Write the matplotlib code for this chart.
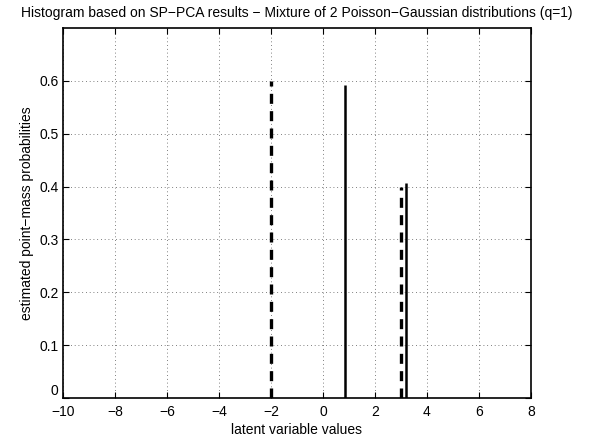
import numpy as np
import matplotlib
matplotlib.use("Agg")
import matplotlib.pyplot as plt

plt.rcParams['font.family'] = ['Liberation Sans', 'DejaVu Sans']

# true point masses (dashed) and SP-PCA estimates (solid)
true_locs = [-2.0, 3.0]
true_probs = [0.60, 0.40]
est_locs = [0.83, 3.19]
est_probs = [0.593, 0.406]

fig = plt.figure(figsize=(5.93, 4.38), dpi=100)
ax = fig.add_axes([0.106, 0.0913, 0.7894, 0.8447])

ax.vlines(true_locs, 0, true_probs, colors='black', linestyles=(0, (3, 2.2)), linewidth=2.4)
ax.vlines(est_locs, 0, est_probs, colors='black', linestyles='solid', linewidth=1.8)

ax.set_xlim(-10, 8)
ax.set_ylim(0, 0.7)
ax.set_xticks(np.arange(-10, 9, 2))
ax.set_yticks(np.arange(0, 0.61, 0.1))
ax.set_yticklabels(['0', '0.1', '0.2', '0.3', '0.4', '0.5', '0.6'])
ax.set_xticklabels([str(v).replace('-', '\u2212') for v in range(-10, 9, 2)])
ax.grid(True, linestyle=(0, (1, 3.5)), color='#555555', linewidth=0.6)
ax.tick_params(direction='in', length=4, labelsize=10, colors='black',
               top=True, right=True)
ax.tick_params(axis='x', pad=5)
ax.tick_params(axis='y', pad=3)
ax.yaxis.get_major_ticks()[0].label1.set_verticalalignment('bottom')
for s in ax.spines.values():
    s.set_linewidth(1.2)

ax.set_xlabel('latent variable values', fontsize=10, labelpad=3)
ax.set_ylabel('estimated point\u2212mass probabilities', fontsize=10, labelpad=4)
ax.set_title('Histogram based on SP\u2212PCA results \u2212 Mixture of 2 Poisson\u2212Gaussian distributions (q=1)',
             fontsize=10, pad=8)

fig.savefig('out.png', dpi=100)
